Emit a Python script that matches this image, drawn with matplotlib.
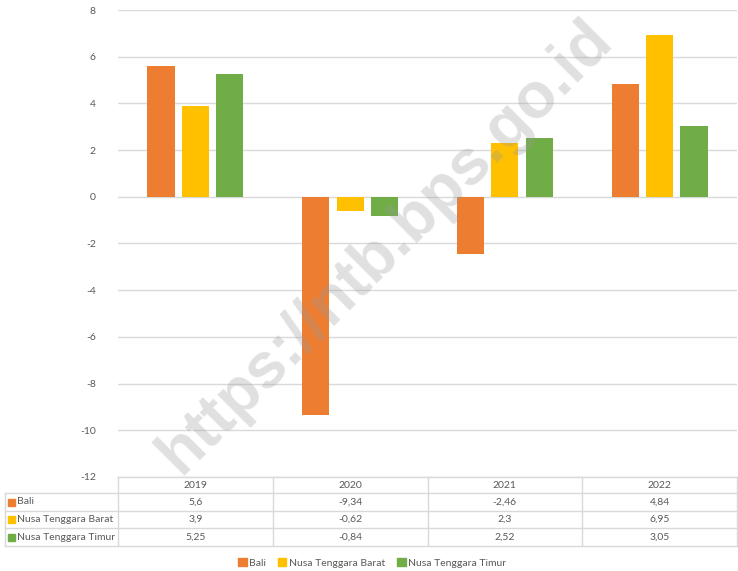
import matplotlib.pyplot as plt
import matplotlib.transforms as mtransforms
from matplotlib.patches import Patch, Rectangle
from matplotlib.lines import Line2D
import numpy as np

# --- data ---
tahun = ["2019", "2020", "2021", "2022"]
provinsi = ["Bali", "Nusa Tenggara Barat", "Nusa Tenggara Timur"]
bali = [5.6, -9.34, -2.46, 4.84]
ntb = [3.9, -0.62, 2.3, 6.95]
ntt = [5.25, -0.84, 2.52, 3.05]
label_tabel = [["5,6", "-9,34", "-2,46", "4,84"],
               ["3,9", "-0,62", "2,3", "6,95"],
               ["5,25", "-0,84", "2,52", "3,05"]]
warna = ["#ED7D31", "#FFC000", "#70AD47"]

W, H = 738, 571
plt.rcParams['font.family'] = ['Lato', 'DejaVu Sans']
plt.rcParams['axes.unicode_minus'] = False
teks = "#595959"
garis = "#D9D9D9"

fig = plt.figure(figsize=(W / 100, H / 100), dpi=100)
ax = fig.add_axes([118 / W, 1 - 477 / H, (737 - 118) / W, (477 - 10) / H])

x = np.arange(len(tahun))
lebar = 0.175
jarak = 0.222
for i, vals in enumerate([bali, ntb, ntt]):
    ax.bar(x + (i - 1) * jarak, vals, lebar, color=warna[i], zorder=2)

ax.set_xlim(-0.5, 3.5)
ax.set_ylim(-12, 8)
ax.set_yticks(range(-12, 9, 2))
ax.set_xticks([])
ax.grid(axis='y', color=garis, linewidth=1, zorder=0)
for s in ax.spines.values():
    s.set_visible(False)
ax.tick_params(axis='y', length=0, pad=16, labelsize=7.5, labelcolor=teks)

# --- data table below the axes ---
tr = mtransforms.blended_transform_factory(ax.transData, fig.transFigure)
trf = fig.transFigure
y_rows = [477, 493, 511, 528, 546]
yf = [1 - v / H for v in y_rows]

# horizontal lines
fig.add_artist(Line2D([118 / W, 737 / W], [yf[0]] * 2, transform=trf, color=garis, lw=1))
for y in yf[1:]:
    fig.add_artist(Line2D([5 / W, 737 / W], [y] * 2, transform=trf, color=garis, lw=1))
# vertical lines
fig.add_artist(Line2D([5 / W] * 2, [yf[1], yf[4]], transform=trf, color=garis, lw=1))
for xb in np.arange(-0.5, 4.0, 1.0):
    fig.add_artist(Line2D([xb, xb], [yf[0], yf[4]], transform=tr, color=garis, lw=1))

# header
for i, t in enumerate(tahun):
    fig.text(x[i], (yf[0] + yf[1]) / 2, t, transform=tr, ha='center', va='center',
             fontsize=7.5, color=teks)
# rows
for r in range(3):
    yc = (yf[r + 1] + yf[r + 2]) / 2
    fig.add_artist(Rectangle((8 / W, yc - 3.5 / H), 7 / W, 7 / H, transform=trf,
                             color=warna[r]))
    fig.text(17 / W, yc, provinsi[r], transform=trf, ha='left', va='center',
             fontsize=7.5, color=teks)
    for i in range(4):
        fig.text(x[i], yc, label_tabel[r][i], transform=tr, ha='center', va='center',
                 fontsize=7.5, color=teks)

# legend
handles = [Patch(color=c, label=p) for c, p in zip(warna, provinsi)]
fig.legend(handles=handles, loc='center', bbox_to_anchor=(372 / W, 1 - 563 / H),
           ncol=3, frameon=False, fontsize=7.5, labelcolor=teks,
           handlelength=0.8, handleheight=0.8, handletextpad=0.2, columnspacing=1.2)

# watermark
fig.text(385 / W, 1 - 247 / H, "https://ntb.bps.go.id", ha='center', va='center',
         rotation=45, fontsize=46, fontweight='bold', color='#9a9a9a', alpha=0.3,
         family='Liberation Sans', zorder=10)

fig.savefig("out.png", dpi=100)
